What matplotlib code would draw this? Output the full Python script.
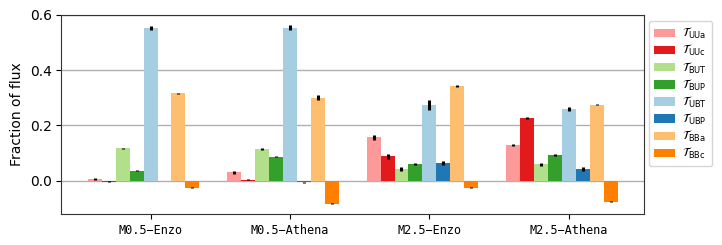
import matplotlib
matplotlib.use("Agg")
import matplotlib.pyplot as plt
import numpy as np

runs = ["M0.5\u2212Enzo", "M0.5\u2212Athena", "M2.5\u2212Enzo", "M2.5\u2212Athena"]
terms = ["UUa", "UUc", "BUT", "BUP", "UBT", "UBP", "BBa", "BBc"]
colors = ["#fb9a99", "#e31a1c", "#b2df8a", "#33a02c",
          "#a6cee3", "#1f78b4", "#fdbf6f", "#ff7f00"]

# fraction of flux per term (rows) and run (columns)
values = {
    "UUa": [0.007, 0.031, 0.157, 0.129],
    "UUc": [-0.003, 0.004, 0.088, 0.226],
    "BUT": [0.118, 0.116, 0.042, 0.059],
    "BUP": [0.036, 0.087, 0.061, 0.094],
    "UBT": [0.553, 0.553, 0.275, 0.259],
    "UBP": [-0.001, -0.006, 0.063, 0.042],
    "BBa": [0.317, 0.301, 0.344, 0.275],
    "BBc": [-0.025, -0.083, -0.025, -0.076],
}
errors = {
    "UUa": [0.004, 0.006, 0.009, 0.004],
    "UUc": [0.001, 0.001, 0.008, 0.003],
    "BUT": [0.002, 0.004, 0.008, 0.004],
    "BUP": [0.002, 0.002, 0.003, 0.003],
    "UBT": [0.006, 0.009, 0.018, 0.008],
    "UBP": [0.001, 0.003, 0.007, 0.008],
    "BBa": [0.002, 0.008, 0.004, 0.001],
    "BBc": [0.002, 0.002, 0.003, 0.001],
}

fig = plt.figure(figsize=(7.22, 2.45), dpi=100)
ax = fig.add_axes([0.085, 0.127, 0.807, 0.812])

x = np.arange(len(runs))
width = 0.1
for i, (term, color) in enumerate(zip(terms, colors)):
    ax.bar(x + (i - 4) * width, values[term], width, yerr=errors[term],
           color=color, ecolor="black", error_kw=dict(elinewidth=2.2, capsize=0),
           label=r"$\mathcal{T}_{\rm " + term + "}$", zorder=3)

ax.set_xticks(x)
ax.set_xticklabels(runs, family="DejaVu Sans Mono")
ax.set_yticks([0.0, 0.2, 0.4, 0.6])
ax.set_ylim(-0.12, 0.6)
ax.set_ylabel("Fraction of flux", fontsize=10)
ax.tick_params(labelsize=10)
ax.tick_params(axis="x", labelsize=8.6)
ax.yaxis.grid(True, color="#b0b0b0", linewidth=1, zorder=0)
for s in ax.spines.values():
    s.set_color("#333333")
ax.legend(loc="upper left", bbox_to_anchor=(1.008, 0.97), borderaxespad=0,
          fontsize=8.5, handlelength=1.8, handletextpad=0.6,
          labelspacing=0.17, borderpad=0.45)

fig.savefig("out.png", dpi=100)
